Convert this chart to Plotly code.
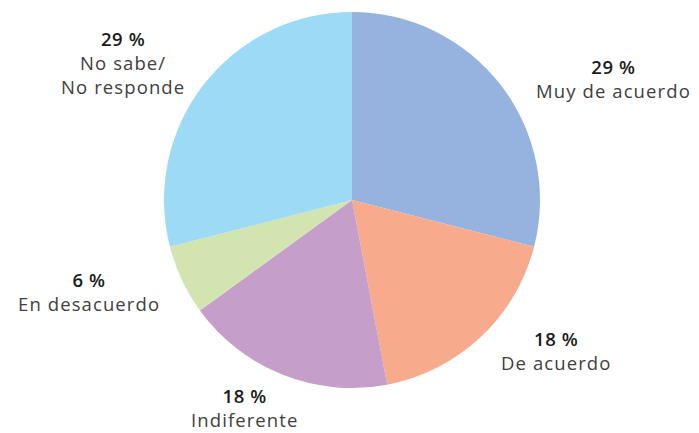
import plotly.graph_objects as go

labels = ["Muy de acuerdo", "De acuerdo", "Indiferente", "En desacuerdo", "No sabe/<br>No responde"]
values = [29, 18, 18, 6, 29]
pct_text = ["29 %", "18 %", "18 %", "6 %", "29 %"]
colors = ["#95B3DE", "#F7AA8C", "#C59FCA", "#D2E4B0", "#9CDAF5"]

W, H = 699, 433
cx, cy, r = 352, 200, 188

fig = go.Figure(go.Pie(
    labels=labels, values=values, sort=False, direction="clockwise", rotation=0,
    marker=dict(colors=colors, line=dict(width=0)),
    textinfo="none", hoverinfo="label+percent", showlegend=False,
    domain=dict(x=[(cx - r) / W, (cx + r) / W], y=[1 - (cy + r) / H, 1 - (cy - r) / H]),
))

# label anchor positions (pixel centres of the first text line)
label_pos = [(613, 68), (556, 340), (245, 397), (89, 281), (123, 40)]
font_family = "Open Sans, Lato, sans-serif"
for (px, py), pct, lab in zip(label_pos, pct_text, labels):
    lab_s = lab.replace("<br>", "</span><br><span style='letter-spacing:1.1px'>")
    fig.add_annotation(
        x=px / W, y=1 - (py - 15) / H, xref="paper", yref="paper",
        xanchor="center", yanchor="top", showarrow=False, align="center",
        borderpad=0,
        text=(f"<span style='font-weight:600;color:#1a1a1a;letter-spacing:0.6px'>{pct}</span><br>"
              f"<span style='letter-spacing:1.1px'>{lab_s}</span>"),
        font=dict(family=font_family, size=18.5, color="#404040"),
    )

fig.update_layout(width=W, height=H, margin=dict(l=0, r=0, t=0, b=0),
                  paper_bgcolor="white", plot_bgcolor="white")
fig.write_html("out.html", config={"displayModeBar": False},
               post_script="document.body.style.margin='0';")
